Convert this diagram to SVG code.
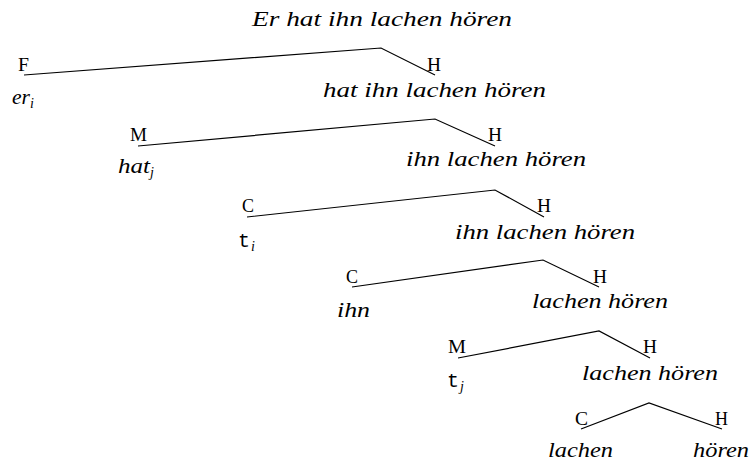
<svg xmlns="http://www.w3.org/2000/svg" width="754" height="461" viewBox="0 0 754 461">
<style>
.t{font-family:"Liberation Serif","DejaVu Serif",serif;font-style:italic;font-size:21px;fill:#000}
.s{font-family:"Liberation Serif","DejaVu Serif",serif;font-style:italic;font-size:14px;fill:#000}
.m{font-family:"Liberation Mono","DejaVu Sans Mono",monospace;font-size:20px;fill:#000}
.l{font-family:"Liberation Serif","DejaVu Serif",serif;font-size:18px;fill:#000}
.e{fill:none;stroke:#000;stroke-width:1.2}
</style>
<rect width="754" height="461" fill="#fff"/>
<g id="connectors">
<polyline class="e" points="24,75 381,48 435,75"/>
<polyline class="e" points="138,146 435,119 495,146"/>
<polyline class="e" points="247,217 495,190 544,217"/>
<polyline class="e" points="352,287 543,260 599,287"/>
<polyline class="e" points="458,358 599,331 650,358"/>
<polyline class="e" points="581,429 649,403 722,429"/>
<g id="edge-labels">
<text class="l" x="18" y="71" textLength="11" lengthAdjust="spacingAndGlyphs">F</text>
<text class="l" x="427" y="71" textLength="14" lengthAdjust="spacingAndGlyphs">H</text>
<text class="l" x="130" y="141" textLength="17" lengthAdjust="spacingAndGlyphs">M</text>
<text class="l" x="488" y="141" textLength="14" lengthAdjust="spacingAndGlyphs">H</text>
<text class="l" x="242" y="212" textLength="12" lengthAdjust="spacingAndGlyphs">C</text>
<text class="l" x="537" y="212" textLength="14" lengthAdjust="spacingAndGlyphs">H</text>
<text class="l" x="346" y="283" textLength="12" lengthAdjust="spacingAndGlyphs">C</text>
<text class="l" x="593" y="283" textLength="14" lengthAdjust="spacingAndGlyphs">H</text>
<text class="l" x="448" y="353" textLength="18" lengthAdjust="spacingAndGlyphs">M</text>
<text class="l" x="643" y="353" textLength="14" lengthAdjust="spacingAndGlyphs">H</text>
<text class="l" x="575" y="425" textLength="13" lengthAdjust="spacingAndGlyphs">C</text>
<text class="l" x="715" y="425" textLength="13" lengthAdjust="spacingAndGlyphs">H</text>
</g>
</g>
<g id="n0"><text class="t" x="252" y="26" textLength="260" lengthAdjust="spacingAndGlyphs">Er hat ihn lachen hören</text></g>
<g id="n1"><text class="t" x="12" y="104" textLength="18" lengthAdjust="spacingAndGlyphs">er</text><text class="s" x="30" y="108">i</text></g>
<g id="n2"><text class="t" x="323" y="97" textLength="223" lengthAdjust="spacingAndGlyphs">hat ihn lachen hören</text></g>
<g id="n3"><text class="t" x="118" y="173" textLength="32" lengthAdjust="spacingAndGlyphs">hat</text><text class="s" x="150" y="177">j</text></g>
<g id="n4"><text class="t" x="406" y="166" textLength="180" lengthAdjust="spacingAndGlyphs">ihn lachen hören</text></g>
<g id="n5"><text class="m" x="238" y="247">t</text><text class="s" x="251" y="251">i</text></g>
<g id="n6"><text class="t" x="455" y="239" textLength="180" lengthAdjust="spacingAndGlyphs">ihn lachen hören</text></g>
<g id="n7"><text class="t" x="337" y="317" textLength="33" lengthAdjust="spacingAndGlyphs">ihn</text></g>
<g id="n8"><text class="t" x="532" y="308" textLength="136" lengthAdjust="spacingAndGlyphs">lachen hören</text></g>
<g id="n9"><text class="m" x="447" y="387">t</text><text class="s" x="460" y="391">j</text></g>
<g id="n10"><text class="t" x="582" y="380" textLength="136" lengthAdjust="spacingAndGlyphs">lachen hören</text></g>
<g id="n11"><text class="t" x="548" y="457" textLength="65" lengthAdjust="spacingAndGlyphs">lachen</text></g>
<g id="n12"><text class="t" x="693" y="457" textLength="56" lengthAdjust="spacingAndGlyphs">hören</text></g>
</svg>
